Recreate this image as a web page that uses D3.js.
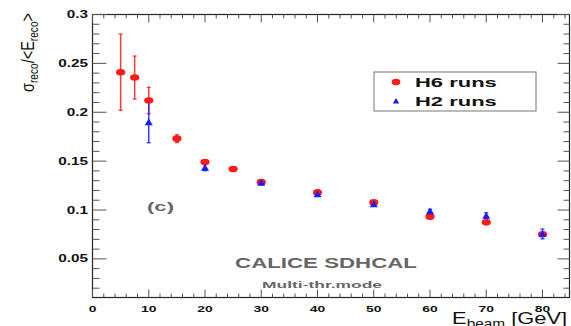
<!DOCTYPE html>
<html>
<head>
<meta charset="utf-8">
<script src="https://cdn.jsdelivr.net/npm/d3@7"></script>
<style>
  html, body { margin: 0; padding: 0; background: #fff; }
  svg { display: block; }
</style>
</head>
<body>
<div id="chart"></div>
<script>
// H6 runs (red circles)
const h6Energy = [5, 7.5, 10, 15, 20, 25, 30, 40, 50, 60, 70, 80];
const h6Res    = [0.241, 0.2355, 0.212, 0.173, 0.149, 0.142, 0.1285, 0.1178, 0.1078, 0.0932, 0.0874, 0.0752];
const h6Err    = [0.039, 0.022, 0.0135, 0.004, 0.002, 0.002, 0.002, 0.003, 0.002, 0.002, 0.002, 0.002];

// H2 runs (blue triangles)
const h2Energy = [10, 20, 30, 40, 50, 60, 70, 80];
const h2Res    = [0.1898, 0.1432, 0.128, 0.116, 0.106, 0.0987, 0.0942, 0.0755];
const h2Err    = [0.021, 0.003, 0.002, 0.002, 0.002, 0.002, 0.003, 0.005];

const xTicks = [0, 10, 20, 30, 40, 50, 60, 70, 80];
const yTicks = [0.05, 0.1, 0.15, 0.2, 0.25, 0.3];

const totalW = 571, totalH = 326;
const margin = { top: 14.5, right: 1.5, bottom: 28.5, left: 92.5 };
const W = totalW - margin.left - margin.right;
const H = totalH - margin.top - margin.bottom;

const svg = d3.select('#chart').append('svg')
    .attr('width', totalW).attr('height', totalH);
const g = svg.append('g').attr('transform', `translate(${margin.left},${margin.top})`);

const xScale = d3.scaleLinear().domain([0, 84.8]).range([0, W]);
const yScale = d3.scaleLinear().domain([0.0105, 0.3]).range([H, 0]);

const font = 'Liberation Sans, Arial, Helvetica, sans-serif';
const tickCol = '#555';

// The reference's lettering is stretched sideways: draw text then squeeze it to a width
function stretched(parent, x, y, anchor, size, weight, color, width, build) {
    const holder = parent.append('g');
    const t = holder.append('text').attr('text-anchor', anchor)
        .attr('font-family', font).attr('font-size', size)
        .attr('font-weight', weight).attr('fill', color);
    build(t);
    const w = t.node().getBBox().width;
    holder.attr('transform', `translate(${x},${y}) scale(${width / w},1)`);
    return holder;
}

// Frame
g.append('rect').attr('width', W).attr('height', H)
    .attr('fill', 'none').attr('stroke', '#222').attr('stroke-width', 1.2);

// Minor/major ticks
const xMinor = d3.range(0, 85, 2);
const yMinor = d3.range(0.02, 0.3001, 0.01);
xMinor.forEach(v => {
    const major = v % 10 === 0;
    const x = xScale(v);
    const len = major ? 8 : 4;
    g.append('line').attr('x1', x).attr('x2', x).attr('y1', H).attr('y2', H - len)
        .attr('stroke', tickCol).attr('stroke-width', 1);
    g.append('line').attr('x1', x).attr('x2', x).attr('y1', 0).attr('y2', len)
        .attr('stroke', tickCol).attr('stroke-width', 1);
});
yMinor.forEach(v => {
    const major = Math.abs(Math.round(v * 100) % 5) === 0;
    const y = yScale(v);
    g.append('line').attr('x1', 0).attr('x2', major ? 14 : 7).attr('y1', y).attr('y2', y)
        .attr('stroke', tickCol).attr('stroke-width', 1);
    g.append('line').attr('x1', W).attr('x2', W - (major ? 12 : 6)).attr('y1', y).attr('y2', y)
        .attr('stroke', tickCol).attr('stroke-width', 1);
});

// Tick labels (scale factor taken from "10" -> 15px and "0.25" -> 31px)
const probe = svg.append('text').attr('font-family', font).attr('font-weight', 700).attr('font-size', 9.5).text('10');
const xLabScale = 15.5 / probe.node().getBBox().width;
probe.attr('font-size', 10).text('0.25');
const yLabScale = 30.5 / probe.node().getBBox().width;
probe.remove();

xTicks.forEach(d => {
    g.append('text')
        .attr('transform', `translate(${xScale(d)},${H + 14}) scale(${xLabScale},1)`)
        .attr('text-anchor', 'middle').attr('font-family', font)
        .attr('font-weight', 700).attr('font-size', 9.5).attr('fill', '#111')
        .text(d);
});
yTicks.forEach(d => {
    g.append('text')
        .attr('transform', `translate(-4.5,${yScale(d) + 3.6}) scale(${yLabScale},1)`)
        .attr('text-anchor', 'end').attr('font-family', font)
        .attr('font-weight', 700).attr('font-size', 10).attr('fill', '#111')
        .text(d);
});

// Axis titles
stretched(svg, 567, 324, 'end', 17, 400, '#111', 115, t => {
    t.append('tspan').text('E');
    t.append('tspan').attr('font-size', 12).attr('dy', 4).text('beam');
    t.append('tspan').attr('dy', -4).text(' [GeV]');
});

const yt = svg.append('g').attr('transform', 'translate(33.5,13) rotate(-90)');
stretched(yt, 0, 0, 'end', 18, 400, '#111', 79, t => {
    t.append('tspan').text('σ');
    t.append('tspan').attr('font-size', 12.5).attr('dy', 4).text('reco');
    t.append('tspan').attr('dy', -4).text('/<E');
    t.append('tspan').attr('font-size', 12.5).attr('dy', 4).text('reco');
    t.append('tspan').attr('dy', -4).text('>');
});

// Error bars
function errBars(xs, ys, es, color) {
    const eg = g.append('g');
    xs.forEach((x, i) => {
        const cx = xScale(x), y1 = yScale(ys[i] + es[i]), y2 = yScale(ys[i] - es[i]);
        eg.append('line').attr('x1', cx).attr('x2', cx).attr('y1', y1).attr('y2', y2)
            .attr('stroke', color).attr('stroke-width', 1.5).attr('opacity', 0.85);
        [y1, y2].forEach(yy => eg.append('line')
            .attr('x1', cx - 2).attr('x2', cx + 2).attr('y1', yy).attr('y2', yy)
            .attr('stroke', color).attr('stroke-width', 1.3).attr('opacity', 0.85));
    });
}
errBars(h6Energy, h6Res, h6Err, '#ff1a1a');
errBars(h2Energy, h2Res, h2Err, '#1a1aff');

// H6 markers
g.append('g').selectAll('ellipse').data(h6Energy).join('ellipse')
    .attr('cx', d => xScale(d)).attr('cy', (d, i) => yScale(h6Res[i]))
    .attr('rx', 4.6).attr('ry', 3.3).attr('fill', '#ff1a1a');

// H2 markers
const tri = 'M0,-3.8 L4,3 L-4,3 Z';
g.append('g').selectAll('path').data(h2Energy).join('path')
    .attr('d', tri)
    .attr('transform', (d, i) => `translate(${xScale(d)},${yScale(h2Res[i])})`)
    .attr('fill', '#1a1aff');

// Legend
const lg = svg.append('g').attr('transform', 'translate(374,72)');
lg.append('rect').attr('width', 162).attr('height', 39)
    .attr('fill', '#fff').attr('stroke', '#777').attr('stroke-width', 1);
lg.append('ellipse').attr('cx', 22).attr('cy', 10).attr('rx', 4.3).attr('ry', 3.2).attr('fill', '#ff1a1a');
lg.append('path').attr('d', tri).attr('transform', 'translate(22,29) scale(0.8)').attr('fill', '#1a1aff');
stretched(lg, 41, 14.5, 'start', 12.5, 700, '#111', 82, t => t.text('H6 runs'));
stretched(lg, 41, 33.5, 'start', 12.5, 700, '#111', 82, t => t.text('H2 runs'));

// Annotations
stretched(svg, 160.5, 211, 'middle', 12, 700, '#666', 27, t => t.text('(c)'));
stretched(svg, 326, 268, 'middle', 14.8, 700, '#666', 182, t => t.text('CALICE SDHCAL'));
stretched(svg, 322, 288, 'middle', 9.5, 700, '#666', 120, t => t.text('Multi-thr.mode'));
</script>
</body>
</html>
